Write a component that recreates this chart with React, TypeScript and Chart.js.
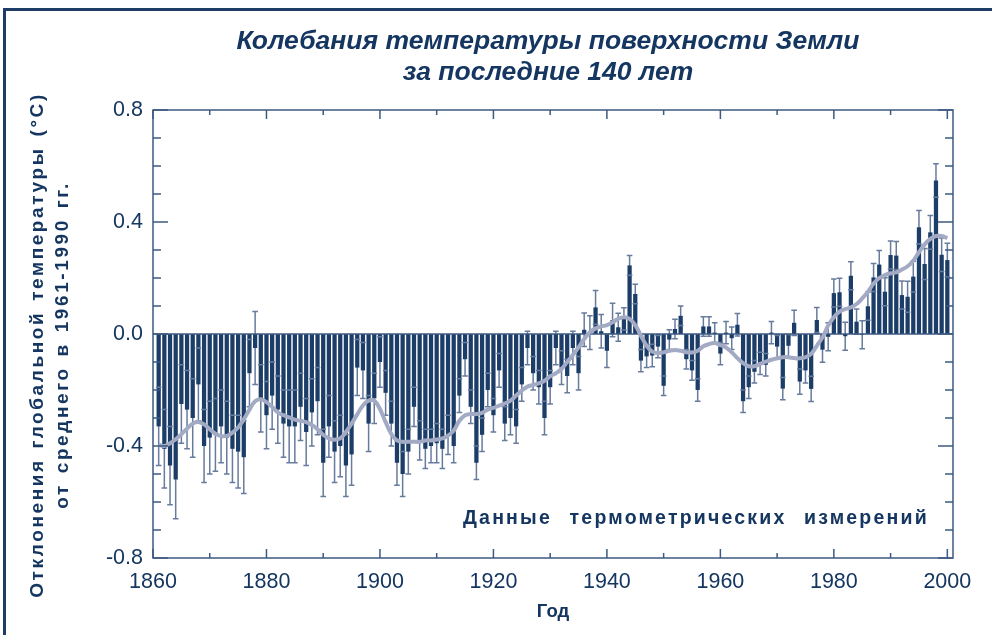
import React, { useEffect, useRef } from 'react';
import { Chart, registerables } from 'chart.js';

Chart.register(...registerables);

const TITLE_LINES = ['Колебания температуры поверхности Земли', 'за последние 140 лет'];
const Y_TITLE_LINES = ['Отклонения глобальной температуры (°C)', 'от среднего в 1961-1990 гг.'];
const X_TITLE = 'Год';
const NOTE = 'Данные термометрических измерений';

const START_YEAR = 1861;

// annual anomalies, 1861–2000 (°C)
const anomalies = [
  -0.33, -0.41, -0.47, -0.52, -0.25, -0.27, -0.30, -0.18, -0.40, -0.37,
  -0.36, -0.33, -0.37, -0.41, -0.42, -0.44, -0.14, -0.05, -0.23, -0.29,
  -0.22, -0.27, -0.32, -0.33, -0.33, -0.26, -0.35, -0.28, -0.24, -0.46,
  -0.33, -0.42, -0.40, -0.47, -0.43, -0.12, -0.13, -0.32, -0.23, -0.10,
  -0.21, -0.32, -0.46, -0.50, -0.42, -0.26, -0.38, -0.41, -0.40, -0.39,
  -0.41, -0.36, -0.40, -0.22, -0.09, -0.26, -0.46, -0.36, -0.20, -0.29,
  -0.13, -0.32, -0.30, -0.33, -0.18, -0.05, -0.14, -0.19, -0.30, -0.19,
  -0.05, -0.12, -0.15, -0.05, -0.14, 0.015, 0.005, 0.095, 0.01, -0.06,
  0.05, 0.024, 0.054, 0.245, 0.143, -0.095, -0.08, -0.077, -0.045, -0.185,
  -0.02, 0.018, 0.065, -0.09, -0.13, -0.20, 0.027, 0.027, 0.005, -0.07,
  0.005, -0.015, 0.033, -0.24, -0.19, -0.135, -0.105, -0.11, 0.005, -0.045,
  -0.195, -0.042, 0.04, -0.17, -0.13, -0.196, 0.05, -0.056, -0.01, 0.146,
  0.149, -0.008, 0.208, 0.044, -0.003, 0.099, 0.202, 0.248, 0.151, 0.282,
  0.28, 0.139, 0.133, 0.205, 0.381, 0.25, 0.363, 0.548, 0.283, 0.264,
];

// half-width of the uncertainty bars (°C)
const errors = [
  0.14, 0.14, 0.14, 0.14, 0.14, 0.14, 0.14, 0.13, 0.13, 0.13,
  0.13, 0.13, 0.13, 0.12, 0.13, 0.13, 0.12, 0.13, 0.12, 0.12,
  0.12, 0.12, 0.12, 0.13, 0.13, 0.12, 0.12, 0.12, 0.12, 0.12,
  0.11, 0.11, 0.11, 0.11, 0.11, 0.10, 0.10, 0.10, 0.09, 0.09,
  0.08, 0.08, 0.08, 0.08, 0.08, 0.07, 0.07, 0.07, 0.06, 0.07,
  0.07, 0.07, 0.06, 0.06, 0.06, 0.06, 0.06, 0.06, 0.06, 0.06,
  0.06, 0.06, 0.06, 0.06, 0.06, 0.06, 0.06, 0.06, 0.06, 0.06,
  0.06, 0.06, 0.06, 0.06, 0.06, 0.06, 0.06, 0.06, 0.06, 0.06,
  0.06, 0.05, 0.04, 0.035, 0.035, 0.04, 0.04, 0.04, 0.04, 0.035,
  0.035, 0.035, 0.035, 0.035, 0.035, 0.04, 0.035, 0.035, 0.035, 0.04,
  0.04, 0.04, 0.04, 0.04, 0.04, 0.04, 0.04, 0.04, 0.04, 0.04,
  0.04, 0.04, 0.045, 0.045, 0.045, 0.045, 0.045, 0.045, 0.05, 0.05,
  0.05, 0.05, 0.05, 0.045, 0.05, 0.05, 0.05, 0.05, 0.05, 0.05,
  0.05, 0.05, 0.055, 0.055, 0.06, 0.055, 0.06, 0.06, 0.06, 0.06,
];

// decadal smoothed curve (°C)
const smoothed = [
  -0.395, -0.40, -0.39, -0.376, -0.358, -0.338, -0.32, -0.314, -0.323, -0.34,
  -0.356, -0.364, -0.364, -0.352, -0.334, -0.305, -0.27, -0.24, -0.233, -0.243,
  -0.26, -0.28, -0.29, -0.298, -0.306, -0.31, -0.315, -0.325, -0.34, -0.36,
  -0.373, -0.378, -0.373, -0.35, -0.32, -0.287, -0.255, -0.238, -0.238, -0.268,
  -0.315, -0.357, -0.38, -0.385, -0.385, -0.385, -0.385, -0.38, -0.38, -0.377,
  -0.373, -0.363, -0.345, -0.31, -0.29, -0.286, -0.286, -0.282, -0.27, -0.264,
  -0.256, -0.248, -0.238, -0.22, -0.202, -0.188, -0.182, -0.176, -0.167, -0.151,
  -0.14, -0.125, -0.10, -0.075, -0.048, -0.018, 0.006, 0.02, 0.027, 0.032,
  0.042, 0.054, 0.06, 0.054, 0.032, -0.006, -0.042, -0.063, -0.068, -0.065,
  -0.06, -0.057, -0.06, -0.065, -0.066, -0.06, -0.044, -0.036, -0.032, -0.04,
  -0.048, -0.065, -0.086, -0.104, -0.115, -0.115, -0.107, -0.099, -0.092, -0.087,
  -0.083, -0.083, -0.086, -0.087, -0.083, -0.071, -0.042, -0.012, 0.03, 0.06,
  0.08, 0.089, 0.095, 0.107, 0.127, 0.151, 0.18, 0.2, 0.21, 0.217,
  0.22, 0.23, 0.242, 0.262, 0.292, 0.32, 0.34, 0.35, 0.35, 0.342,
];

const years = anomalies.map((_, i) => START_YEAR + i);

const X_MIN = 1860;
const X_MAX = 2001;
const Y_MIN = -0.8;
const Y_MAX = 0.8;
const X_MINOR_STEP = 10;
const X_LABEL_STEP = 20;
const Y_MINOR_STEP = 0.1;
const Y_LABEL_STEP = 0.4;

const NAVY = '#143660';
const BAR = '#1b3d68';
const WHISKER = '#677b9d';
const SMOOTH = '#a3aac4';
const FRAME = '#3c5a82';
const FONT = '"Liberation Sans", Arial, Helvetica, sans-serif';

const decor = {
  id: 'decor',
  beforeDatasetDraw(chart: any, args: any) {
    if (args.index !== 1) return;
    const { ctx } = chart;
    const xs = chart.scales.x;
    const ys = chart.scales.y;
    ctx.save();
    ctx.strokeStyle = WHISKER;
    ctx.lineWidth = 1.5;
    years.forEach((yr, i) => {
      const px = xs.getPixelForValue(yr);
      const lo = ys.getPixelForValue(anomalies[i] - errors[i]);
      const hi = ys.getPixelForValue(anomalies[i] + errors[i]);
      ctx.beginPath();
      ctx.moveTo(px, lo);
      ctx.lineTo(px, hi);
      ctx.stroke();
    });
    ctx.restore();
  },
  afterDatasetDraw(chart: any, args: any) {
    if (args.index !== 1) return;
    const { ctx, chartArea } = chart;
    const xs = chart.scales.x;
    const ys = chart.scales.y;
    ctx.save();
    ctx.strokeStyle = WHISKER;
    ctx.lineWidth = 1.5;
    years.forEach((yr, i) => {
      const px = xs.getPixelForValue(yr);
      const lo = ys.getPixelForValue(anomalies[i] - errors[i]);
      const hi = ys.getPixelForValue(anomalies[i] + errors[i]);
      ctx.beginPath();
      ctx.moveTo(px - 2.8, lo);
      ctx.lineTo(px + 2.8, lo);
      ctx.moveTo(px - 2.8, hi);
      ctx.lineTo(px + 2.8, hi);
      ctx.stroke();
    });
    // zero baseline
    const y0 = ys.getPixelForValue(0);
    ctx.strokeStyle = FRAME;
    ctx.lineWidth = 1.6;
    ctx.beginPath();
    ctx.moveTo(chartArea.left, y0);
    ctx.lineTo(chartArea.right, y0);
    ctx.stroke();
    ctx.restore();
  },
  afterDraw(chart: any) {
    const { ctx, chartArea } = chart;
    const { left, right, top, bottom } = chartArea;
    const xs = chart.scales.x;
    const ys = chart.scales.y;
    ctx.save();
    // frame
    ctx.strokeStyle = FRAME;
    ctx.lineWidth = 1.5;
    ctx.strokeRect(left, top, right - left, bottom - top);
    // inward ticks
    ctx.beginPath();
    const nY = Math.round((Y_MAX - Y_MIN) / Y_MINOR_STEP);
    for (let k = 0; k <= nY; k++) {
      const v = Y_MIN + k * Y_MINOR_STEP;
      const major = Math.abs(v / Y_LABEL_STEP - Math.round(v / Y_LABEL_STEP)) < 1e-6;
      const len = major ? 15 : 8;
      const py = ys.getPixelForValue(v);
      ctx.moveTo(left, py);
      ctx.lineTo(left + len, py);
      ctx.moveTo(right, py);
      ctx.lineTo(right - len, py);
    }
    for (let yr = X_MIN; yr <= X_MAX; yr += X_MINOR_STEP) {
      const major = (yr - X_MIN) % X_LABEL_STEP === 0;
      const len = major ? 9 : 5;
      const px = xs.getPixelForValue(yr);
      ctx.moveTo(px, bottom);
      ctx.lineTo(px, bottom - len);
      ctx.moveTo(px, top);
      ctx.lineTo(px, top + len);
    }
    ctx.stroke();

    // main title
    ctx.fillStyle = NAVY;
    ctx.textAlign = 'center';
    ctx.textBaseline = 'middle';
    ctx.font = `italic bold 26.5px ${FONT}`;
    const cx = (left + right) / 2 - 5;
    ctx.fillText(TITLE_LINES[0], cx, 42);
    ctx.fillText(TITLE_LINES[1], cx, 73);

    // note inside plot
    ctx.font = `bold 19.5px ${FONT}`;
    (ctx as any).letterSpacing = '2.2px';
    (ctx as any).wordSpacing = '10px';
    ctx.textAlign = 'left';
    ctx.textBaseline = 'alphabetic';
    ctx.fillText(NOTE, left + 310, ys.getPixelForValue(-0.68));

    // y-axis title (rotated)
    ctx.font = `bold 19px ${FONT}`;
    (ctx as any).letterSpacing = '2.6px';
    (ctx as any).wordSpacing = '2px';
    ctx.textAlign = 'center';
    ctx.textBaseline = 'middle';
    const cy = (top + bottom) / 2 + 11;
    ctx.translate(38, cy);
    ctx.rotate(-Math.PI / 2);
    ctx.fillText(Y_TITLE_LINES[0], 0, 0);
    ctx.fillText(Y_TITLE_LINES[1], 0, 25);
    ctx.restore();
  },
};

export default function App() {
  const ref = useRef<HTMLCanvasElement | null>(null);

  useEffect(() => {
    if (!ref.current) return;
    const chart = new Chart(ref.current, {
      type: 'bar',
      data: {
        datasets: [
          {
            type: 'line',
            data: years.map((x, i) => ({ x, y: smoothed[i] })),
            borderColor: SMOOTH,
            borderWidth: 4,
            pointRadius: 0,
            tension: 0.4,
            order: 1,
          } as any,
          {
            type: 'bar',
            data: years.map((x, i) => ({ x, y: anomalies[i] })),
            backgroundColor: BAR,
            barPercentage: 0.75,
            categoryPercentage: 1,
            order: 2,
          } as any,
        ],
      },
      options: {
        animation: false,
        responsive: false,
        devicePixelRatio: 1,
        layout: { padding: { top: 110, right: 39, left: 0, bottom: 0 } },
        plugins: {
          legend: { display: false },
          tooltip: { enabled: false },
          title: { display: false },
        },
        scales: {
          x: {
            type: 'linear',
            min: X_MIN,
            max: X_MAX,
            offset: false,
            grid: { display: false, drawTicks: false },
            border: { display: false },
            ticks: {
              stepSize: X_LABEL_STEP,
              includeBounds: false,
              autoSkip: false,
              maxRotation: 0,
              padding: 11,
              color: NAVY,
              font: { family: FONT, size: 21.5 },
              callback: (v: any) => String(v),
            },
            title: {
              display: true,
              text: X_TITLE,
              color: NAVY,
              font: { family: FONT, size: 18.5, weight: 'bold' },
              padding: { top: 4, bottom: 12 },
            },
            afterFit: (s: any) => {
              s.height = 77;
            },
          },
          y: {
            type: 'linear',
            min: Y_MIN,
            max: Y_MAX,
            grid: { display: false, drawTicks: false },
            border: { display: false },
            ticks: {
              stepSize: Y_LABEL_STEP,
              padding: 10,
              color: NAVY,
              font: { family: FONT, size: 21.5 },
              callback: (v: any) => (Math.abs(v) < 1e-9 ? '0.0' : Number(v).toFixed(1)),
            },
            afterFit: (s: any) => {
              s.width = 153;
            },
          },
        },
      },
      plugins: [decor],
    });
    return () => chart.destroy();
  }, []);

  return (
    <div
      style={{
        position: 'absolute',
        left: 0,
        top: 0,
        width: 992,
        height: 635,
        overflow: 'hidden',
        background: '#ffffff',
      }}
    >
      <div
        style={{
          position: 'absolute',
          left: 3,
          top: 8,
          width: 1100,
          height: 800,
          border: '3px solid #1d3d66',
          boxSizing: 'border-box',
        }}
      />
      <canvas
        ref={ref}
        width={992}
        height={635}
        style={{ position: 'absolute', left: 0, top: 0 }}
      />
    </div>
  );
}
